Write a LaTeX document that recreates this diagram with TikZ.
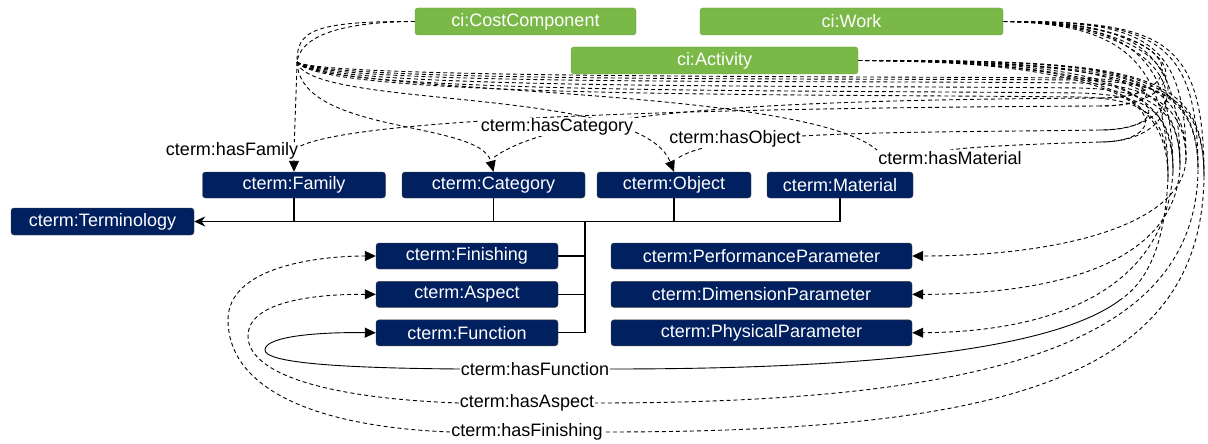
\documentclass[tikz,border=0pt]{standalone}
\usepackage{fontspec}
\setmainfont{Liberation Sans}
\usepackage{tikz}
\usetikzlibrary{positioning}
\usetikzlibrary{arrows.meta}
\definecolor{ci-green}{RGB}{122,184,72}
\definecolor{cterm-navy}{RGB}{0,32,96}
\pgfdeclarelayer{edges}
\pgfsetlayers{edges,main}

\begin{document}
\begin{tikzpicture}[x=1pt, y=-1pt, node distance=12pt, >={Triangle[length=11pt,width=10pt]},
ci/.style={rounded corners=3pt, fill=ci-green, draw=ci-green!85!black, text=white, minimum height=27pt, inner sep=0pt, font=\fontsize{18}{20}\selectfont},
cterm/.style={rounded corners=3pt, fill=cterm-navy, draw=black!75, text=white, minimum height=26pt, inner sep=0pt, font=\fontsize{18}{20}\selectfont},
lab/.style={fill=white, inner sep=1pt, font=\fontsize{18}{20}\selectfont},
rel/.style={line width=0.9pt, dash pattern=on 4pt off 3pt},
fnline/.style={line width=0.9pt},
tree/.style={line width=1.2pt}]

\useasboundingbox (0,0) rectangle (1208,444);

%% ci classes
\node[ci, minimum width=221pt] (cc) at (525.5,21.5) {ci:CostComponent};
\node[ci, minimum width=303pt] (work) at (851.5,21.5) {ci:Work};
\node[ci, minimum width=287pt] (act) at (714.5,60.5) {ci:Activity};

%% cterm classes
\node[cterm, minimum width=183pt] (fam) at (294,185) {cterm:Family};
\node[cterm, minimum width=183pt] (cat) at (493.5,185) {cterm:Category};
\node[cterm, minimum width=154pt] (obj) at (674,185) {cterm:Object};
\node[cterm, minimum width=146pt] (mat) at (840,185) {cterm:Material};
\node[cterm, minimum width=183pt, minimum height=27pt] (term) at (102.5,221.5) {cterm:Terminology};
\node[cterm, minimum width=182pt] (fin) at (467,256) {cterm:Finishing};
\node[cterm, minimum width=182pt, below=of fin] (asp) {cterm:Aspect};
\node[cterm, minimum width=182pt, below=of asp] (fun) {cterm:Function};
\node[cterm, minimum width=301pt] (per) at (761.5,256) {cterm:PerformanceParameter};
\node[cterm, minimum width=301pt, below=of per] (dim) {cterm:DimensionParameter};
\node[cterm, minimum width=301pt, below=of dim] (phy) {cterm:PhysicalParameter};

%% property labels
\node[lab] (lFam) at (232,151) {cterm:hasFamily};
\node[lab] (lCat) at (557,127) {cterm:hasCategory};
\node[lab] (lObj) at (735,139) {cterm:hasObject};
\node[lab] (lMat) at (950,158) {cterm:hasMaterial};
\node[lab] (lFun) at (535,369) {cterm:hasFunction};
\node[lab] (lAsp) at (527,403) {cterm:hasAspect};
\node[lab] (lFin) at (527,432) {cterm:hasFinishing};

\coordinate (hubL) at (297,62);
\coordinate (famIn) at (294,150);
\coordinate (catIn) at (493,158);
\coordinate (objIn) at (678,158);
\coordinate (tFam) at (1100,106);
\coordinate (tCat) at (1100,98);
\coordinate (tObj) at (1100,130);
\coordinate (tMat) at (1100,142);
\coordinate (rPer) at (1186,160);
\coordinate (rDim) at (1180,166);
\coordinate (rPhy) at (1173,172);
\coordinate (rFun) at (1168,178);
\coordinate (fnJoin) at (1120,300);
\coordinate (rAsp) at (1198,170);
\coordinate (rFin) at (1204,176);
\coordinate (trunk) at (585,221.5);

\begin{pgfonlayer}{edges}
%% subclass tree
\draw[tree, -{Stealth[length=11pt,width=10pt]}] (mat.south) |- (term.east);
\draw[tree] (fam.south) -- (fam.south |- term.east);
\draw[tree] (cat.south) -- (cat.south |- term.east);
\draw[tree] (obj.south) -- (obj.south |- term.east);
\draw[tree] (fun.east) -| (trunk);
\draw[tree] (fin.east) -- (fin.east -| trunk);
\draw[tree] (asp.east) -- (asp.east -| trunk);

%% from ci:CostComponent
\draw[rel] (cc.west) .. controls (310,21) and (297,32) .. (hubL);
\draw[rel] (cc.west) .. controls (330,22) and (300,40) .. (hubL);
\draw[rel,->] (hubL) .. controls (296,100) and (294,140) .. (fam.north);
\draw[rel,->] (hubL) .. controls (300,135) and (480,120) .. (cat.north);
\draw[rel,->] (hubL) .. controls (310,110) and (640,85) .. (obj.north);
\draw[rel] (hubL) .. controls (330,95) and (800,85) .. (lMat.north west);
\draw[rel] (hubL) .. controls (320,86) and (800,80) .. (1080,83) .. controls (1150,85) and (1186,105) .. (rPer);
\draw[rel] (hubL) .. controls (320,90) and (800,85) .. (1080,88) .. controls (1150,90) and (1180,108) .. (rDim);
\draw[rel] (hubL) .. controls (320,94) and (800,90) .. (1080,93) .. controls (1150,95) and (1173,112) .. (rPhy);
\draw[rel] (hubL) .. controls (320,98) and (800,94) .. (1080,97) .. controls (1150,99) and (1168,118) .. (rFun);
\draw[rel] (hubL) .. controls (320,78) and (800,76) .. (1080,78) .. controls (1160,80) and (1198,100) .. (rAsp);
\draw[rel] (hubL) .. controls (320,82) and (800,78) .. (1080,80) .. controls (1165,82) and (1204,100) .. (rFin);

%% from ci:Work
\draw[rel] (work.east) .. controls (1200,21) and (1200,106) .. (tFam);
\draw[rel] (work.east) .. controls (1195,21) and (1195,98) .. (tCat);
\draw[rel] (work.east) .. controls (1200,21) and (1205,130) .. (tObj);
\draw[rel] (work.east) .. controls (1195,21) and (1205,142) .. (tMat);
\draw[rel] (work.east) .. controls (1140,21) and (1186,35) .. (rPer);
\draw[rel] (work.east) .. controls (1130,22) and (1180,40) .. (rDim);
\draw[rel] (work.east) .. controls (1120,23) and (1173,45) .. (rPhy);
\draw[rel] (work.east) .. controls (1110,24) and (1168,50) .. (rFun);
\draw[rel] (work.east) .. controls (1150,21) and (1198,35) .. (rAsp);
\draw[rel] (work.east) .. controls (1160,21) and (1204,35) .. (rFin);

%% from ci:Activity
\draw[rel] (act.east) .. controls (1180,60) and (1185,106) .. (tFam);
\draw[rel] (act.east) .. controls (1170,60) and (1180,98) .. (tCat);
\draw[rel] (act.east) .. controls (1180,60) and (1190,130) .. (tObj);
\draw[rel] (act.east) .. controls (1175,60) and (1185,142) .. (tMat);
\draw[rel] (act.east) .. controls (1120,60) and (1186,70) .. (rPer);
\draw[rel] (act.east) .. controls (1110,61) and (1180,75) .. (rDim);
\draw[rel] (act.east) .. controls (1100,62) and (1173,80) .. (rPhy);
\draw[rel] (act.east) .. controls (1090,63) and (1168,85) .. (rFun);
\draw[rel] (act.east) .. controls (1130,60) and (1198,70) .. (rAsp);
\draw[rel] (act.east) .. controls (1140,60) and (1204,70) .. (rFin);

%% back to the cterm classes
\draw[rel] (tFam) .. controls (700,108) and (330,118) .. (famIn);
\draw[rel] (tCat) .. controls (800,100) and (560,108) .. (catIn);
\draw[rel] (tObj) .. controls (900,133) and (720,130) .. (objIn);
\draw[rel] (tMat) .. controls (1000,145) and (960,148) .. (lMat.north);
\draw[rel,->] (rPer) .. controls (1182,225) and (1060,256) .. (per.east);
\draw[rel,->] (rDim) .. controls (1176,262) and (1060,294) .. (dim.east);
\draw[rel,->] (rPhy) .. controls (1165,292) and (1050,332) .. (phy.east);
\draw[rel] (rFun) .. controls (1165,240) and (1150,280) .. (fnJoin);
\draw[fnline] (fnJoin) .. controls (1060,345) and (900,369) .. (lFun.east);
\draw[rel] (rAsp) .. controls (1196,340) and (1000,403) .. (lAsp.east);
\draw[rel] (rFin) .. controls (1202,380) and (1000,432) .. (lFin.east);
\draw[fnline,->] (lFun.west) .. controls (330,368) and (265,362) .. (265,350) .. controls (265,336) and (320,332) .. (fun.west);
\draw[rel,->] (lAsp.west) .. controls (320,398) and (248,372) .. (248,336) .. controls (248,300) and (320,294) .. (asp.west);
\draw[rel,->] (lFin.west) .. controls (300,426) and (228,382) .. (228,320) .. controls (228,266) and (320,256) .. (fin.west);
\end{pgfonlayer}
\end{tikzpicture}
\end{document}
